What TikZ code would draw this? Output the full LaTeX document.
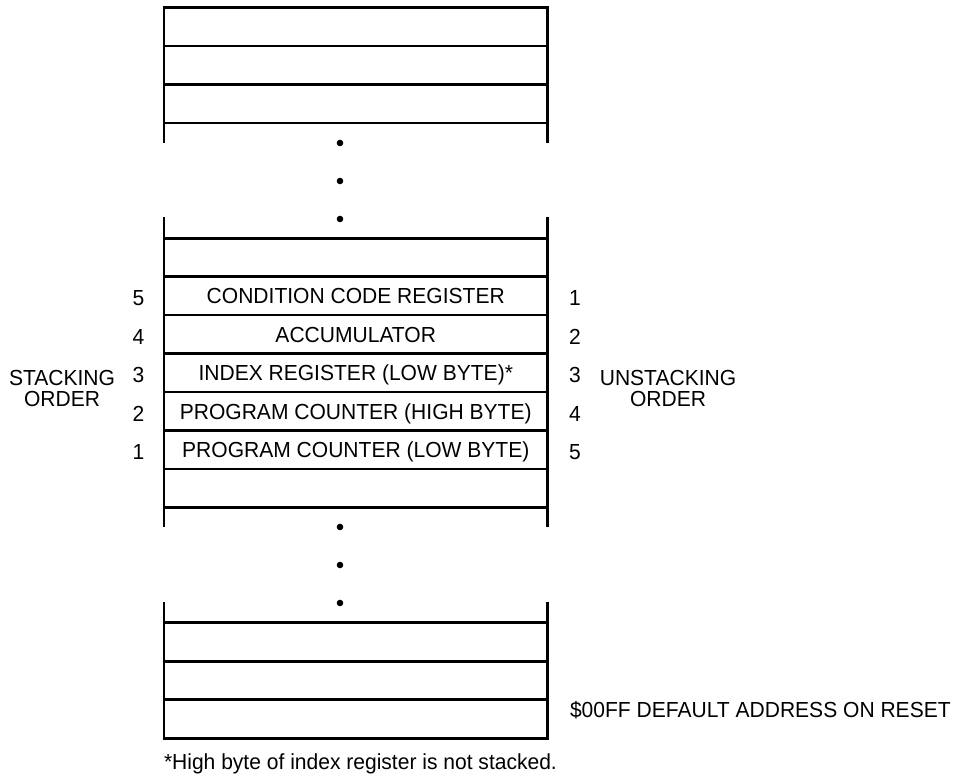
\documentclass[tikz,border=0pt]{standalone}
\usepackage{fontspec}
\setmainfont[FakeStretch=0.965]{Liberation Sans}
\begin{document}
\begin{tikzpicture}[x=1pt,y=-1pt,
  every node/.style={font=\fontsize{21.8}{21}\selectfont, inner sep=0pt, outer sep=0pt},
  cell/.style={draw, line width=2.6pt, minimum width=383.5pt, minimum height=38.5pt, text height=15.6pt, text depth=0pt},
  side/.style={line width=2.6pt},
  vdot/.style={circle, fill, minimum size=6.6pt},
  lbl/.style={anchor=base}
]
\useasboundingbox (0,0) rectangle (969,784);
% top section
\node[cell] (t1) at (355.75,26.75) {};
\node[cell] (t2) at (355.75,65.25) {};
\node[cell] (t3) at (355.75,103.75) {};
\coordinate (t3l) at ([yshift=-20pt]t3.south west);
\coordinate (t3r) at ([yshift=-20pt]t3.south east);
\draw[side] (t3.south west) -- (t3l);
\draw[side] (t3.south east) -- (t3r);
% dots
\node[vdot] (d1) at (340,143) {};
\node[vdot] (d2) at (340,181) {};
\node[vdot] (d3) at (340,219) {};
% middle section
\node[cell] (m1) at (355.75,257.5) {};
\node[cell] (m2) at (355.75,295.9) {CONDITION CODE REGISTER};
\node[cell] (m3) at (355.75,334.4) {ACCUMULATOR};
\node[cell] (m4) at (355.75,372.8) {INDEX REGISTER (LOW BYTE)*};
\node[cell] (m5) at (355.75,411.2) {PROGRAM COUNTER (HIGH BYTE)};
\node[cell] (m6) at (355.75,449.7) {PROGRAM COUNTER (LOW BYTE)};
\node[cell] (m7) at (355.75,488.1) {};
\coordinate (m1l) at ([yshift=21pt]m1.north west);
\coordinate (m1r) at ([yshift=21pt]m1.north east);
\coordinate (m7l) at ([yshift=-20pt]m7.south west);
\coordinate (m7r) at ([yshift=-20pt]m7.south east);
\draw[side] (m1.north west) -- (m1l);
\draw[side] (m1.north east) -- (m1r);
\draw[side] (m7.south west) -- (m7l);
\draw[side] (m7.south east) -- (m7r);
% dots
\node[vdot] (d4) at (340,527) {};
\node[vdot] (d5) at (340,565) {};
\node[vdot] (d6) at (340,603) {};
% bottom section
\node[cell] (b1) at (355.75,641.95) {};
\node[cell] (b2) at (355.75,680.45) {};
\node[cell] (b3) at (355.75,718.95) {};
\coordinate (b1l) at ([yshift=21pt]b1.north west);
\coordinate (b1r) at ([yshift=21pt]b1.north east);
\draw[side] (b1.north west) -- (b1l);
\draw[side] (b1.north east) -- (b1r);
% stacking order numbers
\node[lbl] (sl5) at (138.5,305.7) {5};
\node[lbl] (sl4) at (138.5,344.2) {4};
\node[lbl] (sl3) at (138.5,382.6) {3};
\node[lbl] (sl2) at (138.5,421.0) {2};
\node[lbl] (sl1) at (138.5,459.5) {1};
\node[lbl] (ur1) at (575,305.7) {1};
\node[lbl] (ur2) at (575,344.2) {2};
\node[lbl] (ur3) at (575,382.6) {3};
\node[lbl] (ur4) at (575,421.0) {4};
\node[lbl] (ur5) at (575,459.5) {5};
% side labels
\node[lbl] (st1) at (62,385.5) {STACKING};
\node[lbl] (st2) at (62,406) {ORDER};
\node[lbl] (us1) at (668,385.5) {UNSTACKING};
\node[lbl] (us2) at (668,406) {ORDER};
% reset label
\node[anchor=base west] (reset) at (570,717.3) {\$00FF DEFAULT ADDRESS ON RESET};
% footnote
\node[anchor=base west] (foot) at (164,769.3) {*High byte of index register is not stacked.};
\end{tikzpicture}
\end{document}
